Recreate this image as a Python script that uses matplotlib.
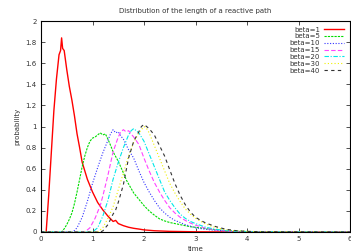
import matplotlib
matplotlib.use("Agg")
import matplotlib.pyplot as plt

labels = ["beta=1", "beta=5", "beta=10", "beta=15", "beta=20", "beta=30", "beta=40"]

t1 = [0.0, 0.10, 0.15, 0.2, 0.25, 0.3, 0.35, 0.38, 0.40, 0.42, 0.45, 0.5, 0.55, 0.6, 0.65, 0.7, 0.75, 0.8,
      0.85, 0.9, 1.0, 1.1, 1.2, 1.3, 1.4, 1.45, 1.5, 1.6, 1.7, 1.8, 1.9, 2.0, 2.2, 2.5, 3.0, 4.0, 6.0]
p1 = [0.0, 0.0, 0.35, 0.75, 1.15, 1.45, 1.68, 1.72, 1.84, 1.74, 1.72, 1.54, 1.38, 1.25, 1.1, 0.93, 0.8, 0.66,
      0.58, 0.5, 0.38, 0.28, 0.21, 0.15, 0.1, 0.11, 0.08, 0.06, 0.045, 0.035, 0.028, 0.02, 0.012, 0.006, 0.002, 0.0, 0.0]

t5 = [0.0, 0.4, 0.45, 0.5, 0.55, 0.6, 0.65, 0.7, 0.75, 0.8, 0.85, 0.9, 0.95, 1.0, 1.05, 1.1, 1.15, 1.2, 1.25,
      1.3, 1.36, 1.4, 1.5, 1.6, 1.66, 1.8, 1.9, 2.0, 2.1, 2.2, 2.3, 2.4, 2.5, 2.6, 2.7, 2.8, 2.9, 3.0, 3.2,
      3.4, 3.6, 3.8, 4.0, 4.5, 6.0]
p5 = [0.0, 0.0, 0.03, 0.07, 0.12, 0.18, 0.27, 0.38, 0.5, 0.62, 0.72, 0.8, 0.86, 0.89, 0.9, 0.92, 0.94, 0.92, 0.93,
      0.88, 0.81, 0.76, 0.67, 0.56, 0.49, 0.37, 0.31, 0.25, 0.2, 0.16, 0.125, 0.105, 0.09, 0.08, 0.07, 0.06, 0.05, 0.045, 0.032,
      0.02, 0.012, 0.008, 0.005, 0.001, 0.0]

t10 = [0.0, 0.62, 0.7, 0.8, 0.9, 1.0, 1.1, 1.2, 1.3, 1.35, 1.4, 1.45, 1.5, 1.55, 1.6, 1.7, 1.8, 1.9, 2.0, 2.1,
       2.2, 2.3, 2.4, 2.5, 2.6, 2.7, 2.8, 2.9, 3.0, 3.2, 3.4, 3.6, 3.8, 4.0, 6.0]
p10 = [0.0, 0.0, 0.04, 0.14, 0.29, 0.46, 0.61, 0.75, 0.87, 0.93, 0.97, 0.94, 0.95, 0.91, 0.88, 0.78, 0.7, 0.58, 0.47, 0.38,
       0.3, 0.23, 0.18, 0.14, 0.11, 0.09, 0.07, 0.055, 0.04, 0.025, 0.015, 0.008, 0.004, 0.002, 0.0]

t15 = [0.0, 0.85, 0.95, 1.05, 1.15, 1.2, 1.3, 1.4, 1.5, 1.55, 1.6, 1.65, 1.7, 1.8, 1.9, 2.0, 2.1, 2.2, 2.3,
       2.4, 2.5, 2.6, 2.7, 2.8, 2.9, 3.0, 3.2, 3.4, 3.6, 3.8, 4.0, 6.0]
p15 = [0.0, 0.0, 0.04, 0.13, 0.25, 0.34, 0.54, 0.76, 0.9, 0.95, 0.97, 0.95, 0.96, 0.9, 0.83, 0.7, 0.58, 0.47, 0.38,
       0.3, 0.23, 0.18, 0.14, 0.11, 0.085, 0.065, 0.035, 0.02, 0.01, 0.005, 0.002, 0.0]

t20 = [0.0, 1.0, 1.1, 1.2, 1.3, 1.4, 1.5, 1.6, 1.7, 1.75, 1.8, 1.85, 1.9, 2.0, 2.1, 2.2, 2.3, 2.4, 2.5,
       2.6, 2.7, 2.8, 2.9, 3.0, 3.2, 3.4, 3.6, 3.8, 4.0, 6.0]
p20 = [0.0, 0.0, 0.04, 0.15, 0.3, 0.5, 0.66, 0.8, 0.92, 0.96, 0.98, 0.96, 0.94, 0.86, 0.74, 0.62, 0.5, 0.38, 0.3,
       0.23, 0.17, 0.13, 0.1, 0.08, 0.045, 0.025, 0.013, 0.006, 0.003, 0.0]

t30 = [0.0, 1.1, 1.2, 1.3, 1.4, 1.5, 1.6, 1.7, 1.8, 1.9, 1.95, 2.0, 2.05, 2.1, 2.2, 2.3, 2.4, 2.5, 2.6, 2.7,
       2.8, 2.9, 3.0, 3.2, 3.4, 3.6, 3.8, 4.0, 6.0]
p30 = [0.0, 0.0, 0.04, 0.13, 0.24, 0.4, 0.56, 0.72, 0.85, 0.94, 0.97, 1.0, 0.98, 0.94, 0.82, 0.7, 0.58, 0.46, 0.37, 0.29,
       0.22, 0.17, 0.13, 0.075, 0.04, 0.02, 0.01, 0.005, 0.0]

t40 = [0.0, 1.15, 1.2, 1.3, 1.4, 1.45, 1.5, 1.6, 1.7, 1.8, 1.9, 1.95, 2.0, 2.05, 2.1, 2.2, 2.3, 2.4, 2.5, 2.6,
       2.7, 2.8, 2.9, 3.0, 3.1, 3.2, 3.4, 3.6, 3.8, 4.0, 4.3, 6.0]
p40 = [0.0, 0.0, 0.01, 0.07, 0.17, 0.21, 0.28, 0.45, 0.7, 0.86, 0.95, 1.0, 1.02, 1.0, 0.98, 0.92, 0.82, 0.72, 0.59, 0.46,
       0.35, 0.26, 0.19, 0.14, 0.11, 0.085, 0.05, 0.025, 0.012, 0.006, 0.002, 0.0]

xticks = [0, 1, 2, 3, 4, 5, 6]
yticks = [0, 0.2, 0.4, 0.6, 0.8, 1, 1.2, 1.4, 1.6, 1.8, 2]
ytick_labels = ["0", "0.2", "0.4", "0.6", "0.8", "1", "1.2", "1.4", "1.6", "1.8", "2"]

series = [(t1, p1), (t5, p5), (t10, p10), (t15, p15), (t20, p20), (t30, p30), (t40, p40)]
colors = ["#ff0000", "#00dd00", "#3333ff", "#ff44ff", "#00e8e8", "#f0f000", "#333333"]
styles = ["-", (0, (2, 1)), (0, (1, 1.5)), (0, (4, 2)), (0, (4, 1.5, 1, 1.5)), (0, (1, 2)), (0, (3, 3))]
widths = [1.0, 0.8, 0.8, 0.8, 0.8, 0.8, 0.8]

fig = plt.figure(figsize=(3.51, 2.52), dpi=100)
ax = fig.add_axes([41/351, 1 - 232/252, 309/351, 211/252])

for (t, p), lab, c, ls, lw in zip(series, labels, colors, styles, widths):
    ax.plot(t, p, color=c, linestyle=ls, linewidth=lw, label=lab)

ax.set_xlim(0, 6)
ax.set_ylim(0, 2)
ax.set_xticks(xticks)
ax.set_xticklabels([str(v) for v in xticks])
ax.set_yticks(yticks)
ax.set_yticklabels(ytick_labels)
ax.tick_params(direction="in", length=3, width=0.6, labelsize=5, colors="#333333",
               top=True, right=True, pad=3)
for s in ax.spines.values():
    s.set_linewidth(0.8)
ax.set_xlabel("time", fontsize=5, color="#333333", labelpad=3)
ax.set_ylabel("probability", fontsize=5, color="#333333", labelpad=4)
ax.set_title("Distribution of the length of a reactive path", fontsize=5, color="#333333", pad=6)

leg = ax.legend(loc="upper right", fontsize=5, frameon=False, markerfirst=False,
                handlelength=3.0, labelspacing=0.12, borderaxespad=0.4, handletextpad=0.5)
for txt in leg.get_texts():
    txt.set_color("#333333")

fig.savefig("out.png", dpi=100)
